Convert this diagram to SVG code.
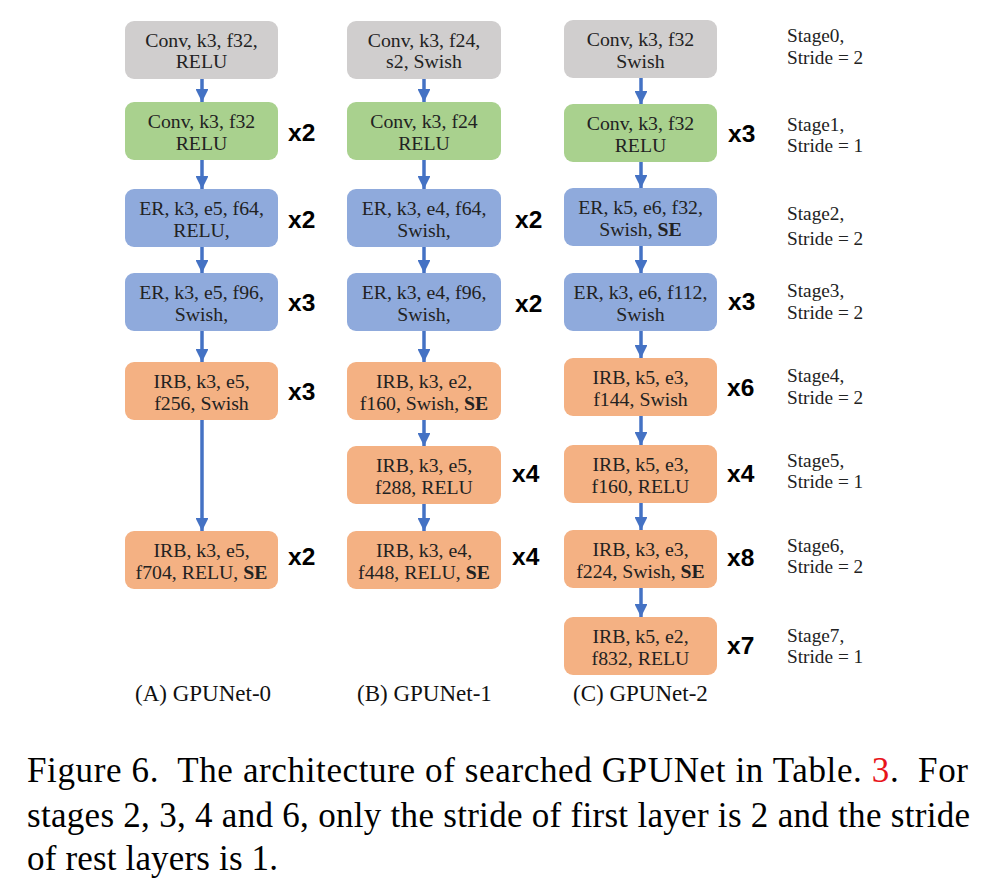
<svg xmlns="http://www.w3.org/2000/svg" width="990" height="890" viewBox="0 0 990 890">
<style>
.box{stroke:none}
.gray{fill:#D0CECE}
.green{fill:#A9D18E}
.blue{fill:#8FAADC}
.orange{fill:#F4B183}
.bt{font-family:"Liberation Serif","Times New Roman",serif;font-size:19.8px;fill:#222;text-anchor:middle}
.b{font-weight:bold}
.mul{font-family:"Liberation Sans",Arial,sans-serif;font-size:24.5px;font-weight:bold;fill:#000}
.stg{font-family:"Liberation Serif","Times New Roman",serif;font-size:19.3px;fill:#222}
.sub{font-family:"Liberation Serif","Times New Roman",serif;font-size:23px;fill:#111}
.cap{font-family:"Liberation Serif","Times New Roman",serif;font-size:35px;fill:#000}
.arr{stroke:#4472C4;stroke-width:3.5;fill:none;marker-end:url(#ah)}
</style>
<defs>
<marker id="ah" viewBox="0 0 10 10" refX="10" refY="5" markerWidth="3.7" markerHeight="3.7" orient="auto" markerUnits="strokeWidth">
<path d="M0,0 L10,5 L0,10 z" fill="#4472C4"/>
</marker>
</defs>
<rect width="990" height="890" fill="#fff"/>

<g id="connectors">
<line class="arr" x1="202" y1="79" x2="202" y2="102"/>
<line class="arr" x1="202" y1="160" x2="202" y2="189"/>
<line class="arr" x1="202" y1="247" x2="202" y2="273"/>
<line class="arr" x1="202" y1="331" x2="202" y2="362"/>
<line class="arr" x1="202" y1="420" x2="202" y2="531"/>

<line class="arr" x1="424" y1="79" x2="424" y2="102"/>
<line class="arr" x1="424" y1="160" x2="424" y2="189"/>
<line class="arr" x1="424" y1="247" x2="424" y2="273"/>
<line class="arr" x1="424" y1="331" x2="424" y2="362"/>
<line class="arr" x1="424" y1="420" x2="424" y2="446"/>
<line class="arr" x1="424" y1="504" x2="424" y2="531"/>

<line class="arr" x1="641" y1="78" x2="641" y2="104"/>
<line class="arr" x1="641" y1="162" x2="641" y2="188"/>
<line class="arr" x1="641" y1="246" x2="641" y2="273"/>
<line class="arr" x1="641" y1="331" x2="641" y2="358"/>
<line class="arr" x1="641" y1="416" x2="641" y2="445"/>
<line class="arr" x1="641" y1="503" x2="641" y2="530"/>
<line class="arr" x1="641" y1="588" x2="641" y2="617"/>
</g>

<!-- Column A -->
<g id="A1"><rect class="box gray" x="125" y="21" width="153" height="58" rx="9"/><text class="bt" x="201.5" y="47">Conv, k3, f32,</text><text class="bt" x="201.5" y="68">RELU</text></g>
<g id="A2"><rect class="box green" x="125" y="102" width="153" height="58" rx="9"/><text class="bt" x="201.5" y="128">Conv, k3, f32</text><text class="bt" x="201.5" y="150">RELU</text><text class="mul" x="288" y="141">x2</text></g>
<g id="A3"><rect class="box blue" x="125" y="189" width="153" height="58" rx="9"/><text class="bt" x="201.5" y="215">ER, k3, e5, f64,</text><text class="bt" x="201.5" y="237">RELU,</text><text class="mul" x="288" y="228">x2</text></g>
<g id="A4"><rect class="box blue" x="125" y="273" width="153" height="58" rx="9"/><text class="bt" x="201.5" y="299">ER, k3, e5, f96,</text><text class="bt" x="201.5" y="321">Swish,</text><text class="mul" x="288" y="311">x3</text></g>
<g id="A5"><rect class="box orange" x="125" y="362" width="153" height="58" rx="9"/><text class="bt" x="201.5" y="388">IRB, k3, e5,</text><text class="bt" x="201.5" y="410">f256, Swish</text><text class="mul" x="288" y="400">x3</text></g>
<g id="A6"><rect class="box orange" x="125" y="531" width="153" height="58" rx="9"/><text class="bt" x="201.5" y="557">IRB, k3, e5,</text><text class="bt" x="201.5" y="579">f704, RELU, <tspan class="b">SE</tspan></text><text class="mul" x="288" y="565">x2</text></g>

<!-- Column B -->
<g id="B1"><rect class="box gray" x="347" y="21" width="154" height="58" rx="9"/><text class="bt" x="424" y="47">Conv, k3, f24,</text><text class="bt" x="424" y="68">s2, Swish</text></g>
<g id="B2"><rect class="box green" x="347" y="102" width="154" height="58" rx="9"/><text class="bt" x="424" y="128">Conv, k3, f24</text><text class="bt" x="424" y="150">RELU</text></g>
<g id="B3"><rect class="box blue" x="347" y="189" width="154" height="58" rx="9"/><text class="bt" x="424" y="215">ER, k3, e4, f64,</text><text class="bt" x="424" y="237">Swish,</text><text class="mul" x="515" y="228">x2</text></g>
<g id="B4"><rect class="box blue" x="347" y="273" width="154" height="58" rx="9"/><text class="bt" x="424" y="299">ER, k3, e4, f96,</text><text class="bt" x="424" y="321">Swish,</text><text class="mul" x="515" y="312">x2</text></g>
<g id="B5"><rect class="box orange" x="347" y="362" width="154" height="58" rx="9"/><text class="bt" x="424" y="388">IRB, k3, e2,</text><text class="bt" x="424" y="410">f160, Swish, <tspan class="b">SE</tspan></text></g>
<g id="B6"><rect class="box orange" x="347" y="446" width="154" height="58" rx="9"/><text class="bt" x="424" y="472">IRB, k3, e5,</text><text class="bt" x="424" y="494">f288, RELU</text><text class="mul" x="512" y="482">x4</text></g>
<g id="B7"><rect class="box orange" x="347" y="531" width="154" height="58" rx="9"/><text class="bt" x="424" y="557">IRB, k3, e4,</text><text class="bt" x="424" y="579">f448, RELU, <tspan class="b">SE</tspan></text><text class="mul" x="512" y="565">x4</text></g>

<!-- Column C -->
<g id="C1"><rect class="box gray" x="564" y="20" width="153" height="58" rx="9"/><text class="bt" x="640.5" y="46">Conv, k3, f32</text><text class="bt" x="640.5" y="68">Swish</text></g>
<g id="C2"><rect class="box green" x="564" y="104" width="153" height="58" rx="9"/><text class="bt" x="640.5" y="130">Conv, k3, f32</text><text class="bt" x="640.5" y="152">RELU</text><text class="mul" x="728" y="142">x3</text></g>
<g id="C3"><rect class="box blue" x="564" y="188" width="153" height="58" rx="9"/><text class="bt" x="640.5" y="214">ER, k5, e6, f32,</text><text class="bt" x="640.5" y="236">Swish, <tspan class="b">SE</tspan></text></g>
<g id="C4"><rect class="box blue" x="564" y="273" width="153" height="58" rx="9"/><text class="bt" x="640.5" y="299">ER, k3, e6, f112,</text><text class="bt" x="640.5" y="321">Swish</text><text class="mul" x="728" y="310">x3</text></g>
<g id="C5"><rect class="box orange" x="564" y="358" width="153" height="58" rx="9"/><text class="bt" x="640.5" y="384">IRB, k5, e3,</text><text class="bt" x="640.5" y="406">f144, Swish</text><text class="mul" x="727" y="396">x6</text></g>
<g id="C6"><rect class="box orange" x="564" y="445" width="153" height="58" rx="9"/><text class="bt" x="640.5" y="471">IRB, k5, e3,</text><text class="bt" x="640.5" y="493">f160, RELU</text><text class="mul" x="727" y="482">x4</text></g>
<g id="C7"><rect class="box orange" x="564" y="530" width="153" height="58" rx="9"/><text class="bt" x="640.5" y="556">IRB, k3, e3,</text><text class="bt" x="640.5" y="578">f224, Swish, <tspan class="b">SE</tspan></text><text class="mul" x="727" y="566">x8</text></g>
<g id="C8"><rect class="box orange" x="564" y="617" width="153" height="58" rx="9"/><text class="bt" x="640.5" y="643">IRB, k5, e2,</text><text class="bt" x="640.5" y="665">f832, RELU</text><text class="mul" x="727" y="654">x7</text></g>

<!-- Stage labels -->
<g id="stages">
<text class="stg" x="787" y="42">Stage0,</text><text class="stg" x="787" y="64">Stride = 2</text>
<text class="stg" x="787" y="131">Stage1,</text><text class="stg" x="787" y="152">Stride = 1</text>
<text class="stg" x="787" y="220">Stage2,</text><text class="stg" x="787" y="245">Stride = 2</text>
<text class="stg" x="787" y="297">Stage3,</text><text class="stg" x="787" y="319">Stride = 2</text>
<text class="stg" x="787" y="382">Stage4,</text><text class="stg" x="787" y="404">Stride = 2</text>
<text class="stg" x="787" y="467">Stage5,</text><text class="stg" x="787" y="488">Stride = 1</text>
<text class="stg" x="787" y="552">Stage6,</text><text class="stg" x="787" y="573">Stride = 2</text>
<text class="stg" x="787" y="642">Stage7,</text><text class="stg" x="787" y="663">Stride = 1</text>
</g>

<g id="subtitles">
<text class="sub" x="135" y="701">(A) GPUNet-0</text>
<text class="sub" x="357" y="701">(B) GPUNet-1</text>
<text class="sub" x="573" y="701">(C) GPUNet-2</text>
</g>

<g id="caption">
<text class="cap" x="27" y="782" textLength="941" lengthAdjust="spacing" xml:space="preserve">Figure 6.  The architecture of searched GPUNet in Table. <tspan fill="#E8141B">3</tspan>.  For</text>
<text class="cap" x="27" y="827" textLength="943" lengthAdjust="spacing">stages 2, 3, 4 and 6, only the stride of first layer is 2 and the stride</text>
<text class="cap" x="27" y="870" textLength="251" lengthAdjust="spacing">of rest layers is 1.</text>
</g>
</svg>
